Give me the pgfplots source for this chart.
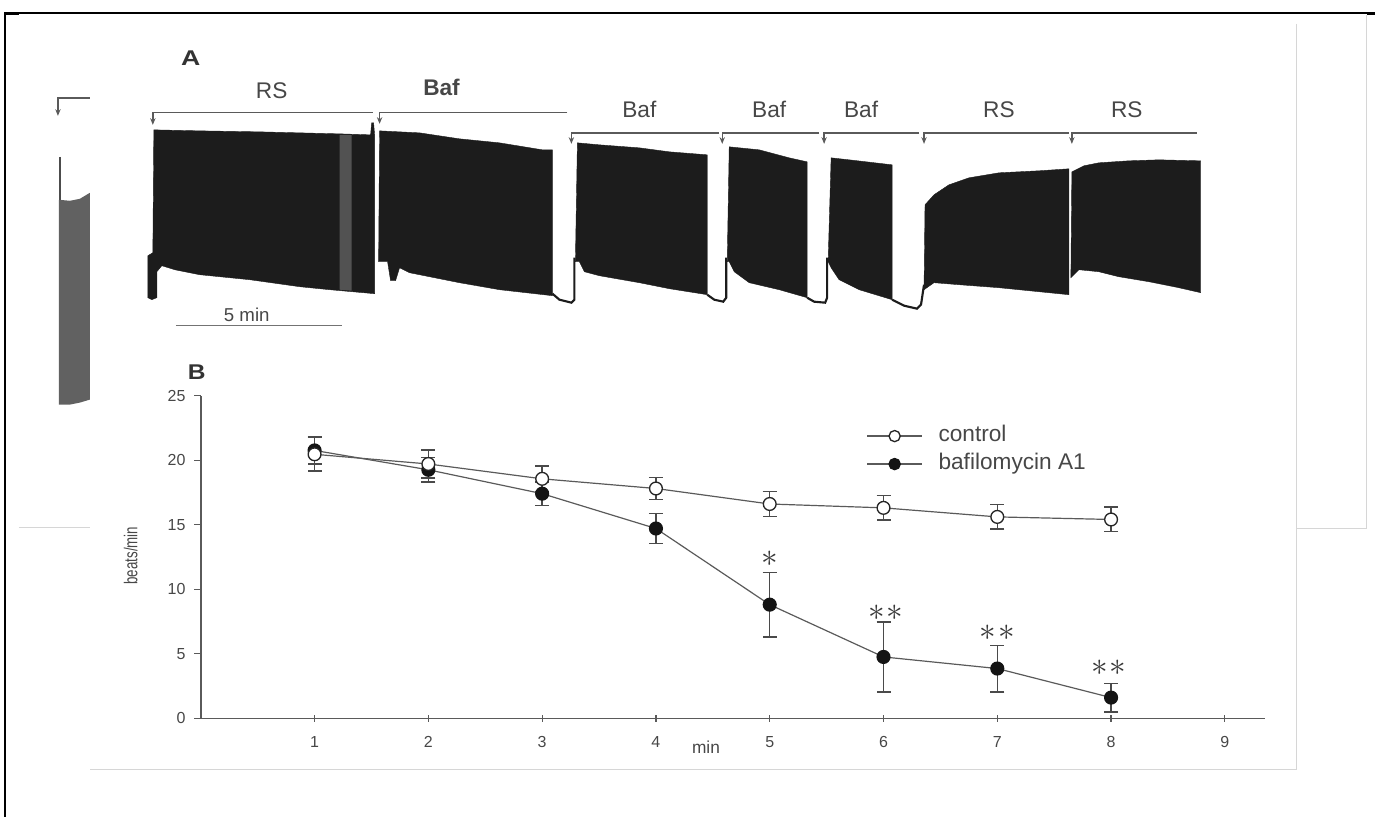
\documentclass[border=0pt]{standalone}
\usepackage{fontspec}
\setmainfont{Liberation Sans}
\usepackage{pgfplots}
\pgfplotsset{compat=1.18}
\usepackage{pgfplotstable}
\usetikzlibrary{arrows.meta}
\definecolor{axgray}{HTML}{5A5A5A}
\definecolor{errgray}{HTML}{4A4A4A}
\definecolor{txtgray}{HTML}{474747}
\definecolor{trace}{HTML}{1C1C1C}
\definecolor{framegray}{HTML}{D6D6D6}
\definecolor{brk}{HTML}{5A5A5A}
\newcommand\fs[1]{\fontsize{#1}{#1}\selectfont}

\pgfplotstableread{
x y e
1 20.45 1.30
2 19.70 1.10
3 18.55 1.00
4 17.80 0.85
5 16.60 0.95
6 16.30 0.95
7 15.60 0.95
8 15.40 0.95
}\ctrl
\pgfplotstableread{
x y e
1 20.75 1.05
2 19.25 0.95
3 17.40 0.90
4 14.70 1.15
5 8.80 2.50
6 4.75 2.70
7 3.85 1.80
8 1.60 1.10
}\baf

\pgfplotsset{
 ctrlst/.style={draw=axgray, line width=0.9pt, mark=*, mark size=4.8pt, mark options={fill=white, draw=black!85, line width=1pt}},
 bafst/.style={draw=axgray, line width=0.9pt, mark=*, mark size=4.8pt, mark options={fill=black!92, draw=black!92, line width=1pt}},
 brack/.style={brk, line width=1.1pt, -{Stealth[length=5pt,width=4pt]}},
}

\begin{document}
\begin{tikzpicture}
% ---------------- overlay in pixel coordinates: panel A and frame ----------------
\begin{axis}[at={(0pt,0pt)}, anchor=south west, scale only axis,
  width=1032pt, height=613.5pt, xmin=0, xmax=1376, ymin=0, ymax=818,
  y dir=reverse, hide axis, clip=false]
\addplot[draw=none] coordinates {(0,0) (1376,818)};
% outer frame
\addplot[black, line width=1.8pt] coordinates {(5,12.5) (5,818)};
\addplot[black, line width=0.9pt] coordinates {(5,13) (1376,13)};
\addplot[black, line width=2.4pt] coordinates {(5,13.5) (19,13.5)};
\addplot[black, line width=2.2pt] coordinates {(1368,14) (1376,14)};
% light frames
\addplot[framegray, line width=0.75pt] coordinates {(1298,24) (1298,770) (90,770)};
\addplot[framegray, line width=0.75pt] coordinates {(1298,529) (1368,529) (1368,15)};
\addplot[framegray, line width=0.75pt] coordinates {(19,528) (90,528)};
% left partial trace
\addplot[brack] coordinates {(90,98) (58,98) (58,116)};
\addplot[black!70, line width=1.2pt] coordinates {(60,157) (60,200)};
\addplot[fill=black!62, draw=none] coordinates {(59,200) (70,201) (80,199) (90,193) (90,400) (80,403) (70,405) (59,405)} --cycle;
% traces
\addplot[fill=trace, draw=trace, line width=0.3pt] coordinates {(148,298) (148,256) (153,253) (154,130) (200,131) (260,132) (300,133) (340,134) (371,135) (372,123) (374,123) (375,135) (375,294) (330,290) (300,287) (250,280) (200,275) (175,270) (162,266) (157,272) (157,298) (152,300)} --cycle;
\addplot[fill=black!68, draw=none] coordinates {(340,135) (352,135) (352,291) (340,290)} --cycle;
\addplot[fill=trace, draw=trace, line width=0.3pt] coordinates {(379,262) (380,131) (420,133) (460,139) (500,143) (543,150) (553,150) (553,296) (500,290) (460,283) (410,273) (400,268) (396,281) (391,281) (388,262)} --cycle;
\addplot[trace, line width=1.6pt] coordinates {(553,294) (560,300) (572,303) (575,300) (575,258)};
\addplot[fill=trace, draw=trace, line width=0.3pt] coordinates {(576,262) (578,143) (600,145) (640,148) (670,152) (708,155) (708,295) (670,289) (640,283) (600,276) (585,272) (580,262)} --cycle;
\addplot[trace, line width=1.6pt] coordinates {(708,295) (715,300) (724,302) (727,298) (727,258)};
\addplot[fill=trace, draw=trace, line width=0.3pt] coordinates {(728,262) (730,147) (760,150) (790,158) (808,162) (808,298) (780,290) (750,283) (735,272) (730,262)} --cycle;
\addplot[trace, line width=1.6pt] coordinates {(808,298) (815,302) (826,303) (828,298) (828,258)};
\addplot[fill=trace, draw=trace, line width=0.3pt] coordinates {(829,262) (832,158) (850,160) (893,165) (893,300) (860,290) (840,280) (832,268)} --cycle;
\addplot[trace, line width=1.6pt] coordinates {(893,300) (905,306) (918,309) (922,305) (925,285)};
\addplot[fill=trace, draw=trace, line width=0.3pt] coordinates {(925,290) (926,205) (935,195) (950,185) (970,178) (1000,173) (1040,171) (1070,169) (1070,295) (1040,292) (1000,288) (960,285) (935,283)} --cycle;
\addplot[fill=trace, draw=trace, line width=0.3pt] coordinates {(1072,278) (1073,172) (1085,166) (1100,163) (1130,161) (1160,160) (1202,161) (1202,293) (1180,288) (1150,282) (1120,277) (1100,272) (1080,270)} --cycle;
% brackets
\addplot[brack] coordinates {(373,112.5) (153,112.5) (153,125)};
\addplot[brack] coordinates {(568,112.5) (380,112.5) (380,124)};
\addplot[brack] coordinates {(720,133) (572,133) (572,144)};
\addplot[brack] coordinates {(820,133) (723,133) (723,144)};
\addplot[brack] coordinates {(920,133) (825,133) (825,144)};
\addplot[brack] coordinates {(1070,133) (925,133) (925,144)};
\addplot[brack] coordinates {(1198,133) (1073,133) (1073,144)};
% scale bar
\addplot[black!55, line width=0.9pt] coordinates {(176,326) (342,326)};
% labels
\node[font=\fs{16}\bfseries, text=black!80, xscale=1.25] at (axis cs:191,58) {A};
\node[font=\fs{16}\bfseries, text=black!80, xscale=1.15] at (axis cs:197,373) {B};
\node[font=\fs{17}, text=txtgray] at (axis cs:272,91) {RS};
\node[font=\fs{17}\bfseries, text=txtgray] at (axis cs:442,88) {Baf};
\node[font=\fs{17}, text=txtgray] at (axis cs:640,110) {Baf};
\node[font=\fs{17}, text=txtgray] at (axis cs:770,110) {Baf};
\node[font=\fs{17}, text=txtgray] at (axis cs:862,110) {Baf};
\node[font=\fs{17}, text=txtgray] at (axis cs:1000,110) {RS};
\node[font=\fs{17}, text=txtgray] at (axis cs:1128,110) {RS};
\node[font=\fs{14}, text=txtgray] at (axis cs:247,315) {5 min};
\end{axis}

% ---------------- panel B ----------------
\begin{axis}[at={(150.75pt,74.25pt)}, anchor=south west, scale only axis,
  width=798.75pt, height=242.25pt,
  xmin=0, xmax=9.35, ymin=0, ymax=25,
  axis x line=bottom, axis y line=left,
  axis line style={-, draw=axgray, line width=1.1pt},
  xtick={1,...,9}, ytick={0,5,10,15,20,25},
  tick style={draw=axgray, line width=0.9pt},
  major tick length=5pt, tick align=outside,
  xtick style={yshift=2.3pt},
  /pgf/number format/assume math mode=true,
  tick label style={font=\fs{12}, text=txtgray},
  yticklabel style={xshift=-3pt},
  xticklabel style={yshift=-5pt},
  clip=false,
  legend style={at={(0.6257,0.9155)}, anchor=north west, draw=none, fill=none,
    font=\fs{17}, text=txtgray, inner sep=0pt, row sep=1.5pt, column sep=10pt,
    nodes={inner sep=2pt, text height=12pt, text depth=3.5pt}},
  legend cell align=left,
  legend image code/.code={\draw[#1, mark repeat=2, mark phase=2, mark size=4.2pt] plot coordinates {(0pt,0pt) (20.5pt,0pt) (41pt,0pt)};},
]
\addlegendimage{ctrlst}
\addlegendentry{control}
\addlegendimage{bafst}
\addlegendentry{bafilomycin A1}
\addplot[bafst, forget plot, error bars/.cd, y dir=both, y explicit, error mark=-,
  error bar style={draw=errgray, line width=1.1pt},
  error mark options={rotate=90, draw=errgray, line width=1.1pt, mark size=5.25pt}]
  table[x=x, y=y, y error=e] {\baf};
\addplot[ctrlst, forget plot, error bars/.cd, y dir=both, y explicit, error mark=-,
  error bar style={draw=errgray, line width=1.1pt},
  error mark options={rotate=90, draw=errgray, line width=1.1pt, mark size=5.25pt}]
  table[x=x, y=y, y error=e] {\ctrl};
\node[font=\fs{33}, text=black!78] at (axis cs:5,12.35) {$\ast$};
\node[font=\fs{33}, text=black!78] at (axis cs:6.02,8.2) {$\ast$\hspace{1.5pt}$\ast$};
\node[font=\fs{33}, text=black!78] at (axis cs:7.0,6.6) {$\ast$\hspace{1.5pt}$\ast$};
\node[font=\fs{33}, text=black!78] at (axis cs:7.98,3.9) {$\ast$\hspace{1.5pt}$\ast$};
\node[rotate=90, yscale=1.4, font=\fs{10}, text=txtgray] at (axis cs:-0.615,12.6) {beats/min};
\node[font=\fs{13}, text=txtgray] at (axis cs:4.44,-2.24) {min};
\end{axis}
\end{tikzpicture}
\end{document}
